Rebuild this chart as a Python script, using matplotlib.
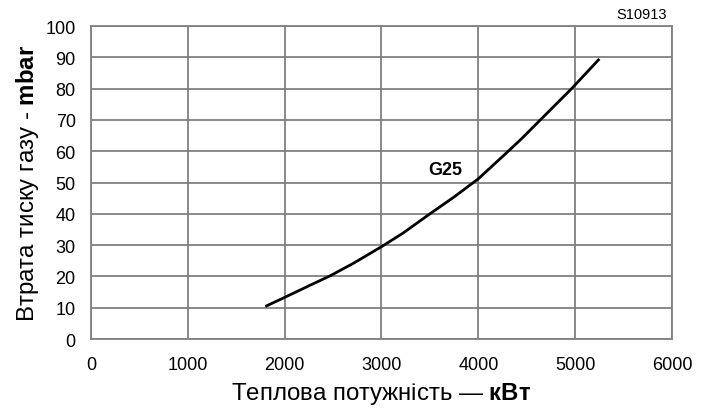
import matplotlib
matplotlib.use("Agg")
import matplotlib.pyplot as plt

plt.rcParams['font.family'] = ['Liberation Sans', 'DejaVu Sans']
plt.rcParams['mathtext.fontset'] = 'custom'
plt.rcParams['mathtext.rm'] = 'Liberation Sans'
plt.rcParams['mathtext.bf'] = 'Liberation Sans:bold'

power_kw = [1800, 2000, 2250, 2470, 2710, 3000, 3220, 3500, 3750, 4000, 4260, 4450, 4640, 4960, 5250]
drop_mbar = [10.4, 13.3, 17.0, 20.2, 24.2, 29.5, 33.8, 40.0, 45.4, 51.2, 58.6, 64.1, 70.0, 79.9, 89.5]
x_ticks = [0, 1000, 2000, 3000, 4000, 5000, 6000]
y_ticks = [0, 10, 20, 30, 40, 50, 60, 70, 80, 90, 100]

fig = plt.figure(figsize=(7.07, 4.10), dpi=100)
ax = fig.add_axes([0.1287, 0.1707, 0.9505 - 0.1287, 0.934 - 0.1707])

ax.plot(power_kw, drop_mbar, color='black', lw=2.0, solid_capstyle='butt',
        solid_joinstyle='round', zorder=3)
ax.set_xlim(0, 6000)
ax.set_ylim(0, 100)
ax.set_xticks(x_ticks)
ax.set_yticks(y_ticks)
ax.grid(True, color='#808080', lw=1.3)
for s in ax.spines.values():
    s.set_color('#808080')
    s.set_linewidth(1.3)
ax.tick_params(length=0, labelsize=13)
ax.tick_params(axis='x', pad=12)
ax.tick_params(axis='y', pad=11)

ax.set_xlabel('Теплова потужність — $\\mathbf{кВт}$', fontsize=17.3, labelpad=5)
ax.set_ylabel('Втрата тиску газу - $\\mathbf{mbar}$', fontsize=17.3, labelpad=3)

ax.text(3657, 54.3, 'G25', fontsize=13, fontweight='bold', ha='center', va='center')
fig.text(0.907, 0.963, 'S10913', fontsize=10.5, ha='center', va='center')

fig.savefig('out.png', dpi=100)
